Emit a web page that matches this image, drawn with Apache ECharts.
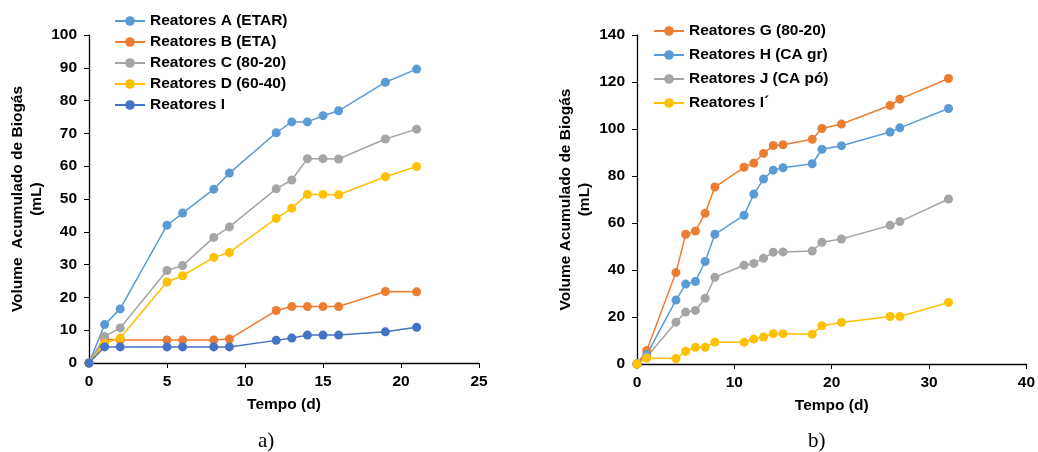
<!DOCTYPE html>
<html><head><meta charset="utf-8">
<script src="https://cdn.jsdelivr.net/npm/echarts@6/dist/echarts.min.js"></script>
<style>html,body{margin:0;padding:0;background:#fff}#c{width:1038px;height:452px}</style>
</head><body><div id="c"></div>
<script>
// Panel a)
const daysA = [0,1,2,5,6,8,9,12,13,14,15,16,19,21];
const reatA = [0,11.7,16.5,42.0,45.7,53.0,57.9,70.2,73.5,73.5,75.4,76.9,85.6,89.6];
const reatB = [0,7.3,7.0,7.0,7.0,7.0,7.3,16.0,17.2,17.2,17.2,17.2,21.8,21.7];
const reatC = [0,8.1,10.7,28.2,29.7,38.3,41.5,53.1,55.8,62.3,62.3,62.2,68.3,71.3];
const reatD = [0,6.0,7.6,24.7,26.6,32.2,33.7,44.1,47.2,51.4,51.4,51.3,56.8,59.9];
const reatI = [0,4.9,4.9,4.9,4.9,4.9,4.9,6.9,7.6,8.5,8.5,8.5,9.5,10.9];
// Panel b)
const daysB = [0,1,4,5,6,7,8,11,12,13,14,15,18,19,21,26,27,32];
const reatG = [0,5.7,38.9,55.2,56.6,64.1,75.3,83.7,85.5,89.6,93.0,93.3,95.6,100.2,102.1,110.0,112.7,121.5];
const reatH = [0,4.0,27.2,34.0,35.1,43.6,55.2,63.3,72.3,78.7,82.5,83.5,85.2,91.4,92.9,98.7,100.5,108.7];
const reatJ = [0,3.0,17.8,22.1,22.8,28.0,36.9,42.0,42.8,45.0,47.6,47.7,48.1,51.8,53.2,59.0,60.6,70.2];
const reatIp = [0,2.5,2.3,5.4,7.1,7.1,9.3,9.3,10.6,11.5,12.9,12.9,12.7,16.3,17.7,20.2,20.2,26.2];

const namesA = ['Reatores A (ETAR)','Reatores B (ETA)','Reatores C (80-20)','Reatores D (60-40)','Reatores I'];
const namesB = ['Reatores G (80-20)','Reatores H (CA gr)','Reatores J (CA pó)','Reatores I´'];

const FONT = '"Liberation Sans", Arial, sans-serif';
const FS = 15.5;
const pairs = (xs, ys) => xs.map((x, i) => [x, ys[i]]);
function ser(name, idx, xs, ys, color) {
  return { name, type: 'line', xAxisIndex: idx, yAxisIndex: idx, data: pairs(xs, ys),
    symbol: 'circle', symbolSize: 9, color,
    lineStyle: { width: 1.5, color }, itemStyle: { color } };
}
function xAx(idx, max, interval) {
  return { type: 'value', gridIndex: idx, min: 0, max, interval,
    name: 'Tempo (d)', nameLocation: 'middle', nameGap: 34,
    nameTextStyle: { fontFamily: FONT, fontWeight: 'bold', fontSize: FS, color: '#000' },
    axisLine: { lineStyle: { color: '#000', width: 1.3 } },
    axisTick: { show: true, length: 5, lineStyle: { color: '#000' } },
    axisLabel: { fontFamily: FONT, fontWeight: 'bold', fontSize: FS, color: '#000', margin: 11 },
    splitLine: { show: false } };
}
function yAx(idx, max, interval, name, gap) {
  return { type: 'value', gridIndex: idx, min: 0, max, interval,
    name, nameLocation: 'middle', nameGap: gap, nameRotate: 90,
    nameTextStyle: { fontFamily: FONT, fontWeight: 'bold', fontSize: FS, color: '#000', lineHeight: 19 },
    axisLine: { show: true, lineStyle: { color: '#000', width: 1.3 } },
    axisTick: { show: true, length: 5, lineStyle: { color: '#000' } },
    axisLabel: { fontFamily: FONT, fontWeight: 'bold', fontSize: FS, color: '#000', margin: 12 },
    splitLine: { show: false } };
}
const chart = echarts.init(document.getElementById('c'));
chart.setOption({
  backgroundColor: '#fff',
  animation: false,
  grid: [
    { left: 89, top: 35, width: 390, height: 328 },
    { left: 637, top: 35, width: 391, height: 329 }
  ],
  xAxis: [xAx(0, 25, 5), xAx(1, 40, 10)],
  yAxis: [
    yAx(0, 100, 10, 'Volume  Acumulado de Biogás\n(mL)', 43),
    yAx(1, 140, 20, 'Volume Acumulado de Biogás\n(mL)', 43)
  ],
  legend: [
    { data: namesA, orient: 'vertical', left: 114, top: 13, padding: 0, itemWidth: 30, itemHeight: 12, itemGap: 5,
      textStyle: { fontFamily: FONT, fontWeight: 'bold', fontSize: FS, color: '#000' } },
    { data: namesB, orient: 'vertical', left: 653, top: 23, padding: 0, itemWidth: 30, itemHeight: 12, itemGap: 8,
      textStyle: { fontFamily: FONT, fontWeight: 'bold', fontSize: FS, color: '#000' } }
  ],
  graphic: [
    { type: 'text', left: 258, top: 431, style: { text: 'a)', font: '21px "Liberation Serif", "Times New Roman", serif', fill: '#000' } },
    { type: 'text', left: 808, top: 431, style: { text: 'b)', font: '21px "Liberation Serif", "Times New Roman", serif', fill: '#000' } }
  ],
  series: [
    ser(namesA[0], 0, daysA, reatA, '#5B9BD5'),
    ser(namesA[1], 0, daysA, reatB, '#ED7D31'),
    ser(namesA[2], 0, daysA, reatC, '#A5A5A5'),
    ser(namesA[3], 0, daysA, reatD, '#FFC000'),
    ser(namesA[4], 0, daysA, reatI, '#4472C4'),
    ser(namesB[0], 1, daysB, reatG, '#ED7D31'),
    ser(namesB[1], 1, daysB, reatH, '#5B9BD5'),
    ser(namesB[2], 1, daysB, reatJ, '#A5A5A5'),
    ser(namesB[3], 1, daysB, reatIp, '#FFC000')
  ]
});
</script></body></html>
